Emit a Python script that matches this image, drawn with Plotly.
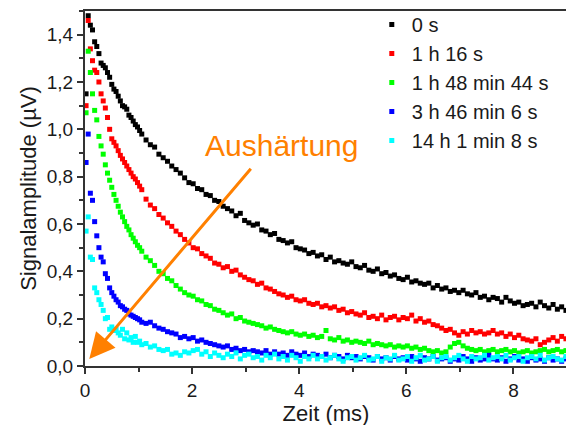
import plotly.graph_objects as go

# ---------------- data ----------------
TIME_MS = [
    0.02, 0.06, 0.10, 0.14, 0.18, 0.22, 0.26, 0.30, 0.34, 0.38,
    0.42, 0.46, 0.50, 0.54, 0.58, 0.62, 0.66, 0.70, 0.74, 0.78,
    0.82, 0.86, 0.90, 0.94, 0.98, 1.02, 1.06,
    1.14, 1.22, 1.30, 1.38, 1.46, 1.54, 1.62, 1.70, 1.78, 1.86,
    1.94, 2.02, 2.10, 2.18, 2.26, 2.34, 2.42, 2.50, 2.58, 2.66,
    2.74, 2.82, 2.90, 2.98, 3.06, 3.14, 3.22, 3.30, 3.38, 3.46,
    3.54, 3.62, 3.70, 3.78, 3.86, 3.94, 4.02, 4.10, 4.18, 4.26,
    4.34, 4.42, 4.50, 4.58, 4.66, 4.74, 4.82, 4.90, 4.98, 5.06,
    5.14, 5.22, 5.30, 5.38, 5.46, 5.54, 5.62, 5.70, 5.78, 5.86,
    5.94, 6.02, 6.10, 6.18, 6.26, 6.34, 6.42, 6.50, 6.58, 6.66,
    6.74, 6.82, 6.90, 6.98, 7.06, 7.14, 7.22, 7.30, 7.38, 7.46,
    7.54, 7.62, 7.70, 7.78, 7.86, 7.94, 8.02, 8.10, 8.18, 8.26,
    8.34, 8.42, 8.50, 8.58, 8.66, 8.74, 8.82, 8.90, 8.98,
]

AMP_0S = [
    1.15, 1.48, 1.44, 1.42, 1.37, 1.35, 1.32, 1.28, 1.27, 1.26,
    1.24, 1.22, 1.19, 1.17, 1.16, 1.14, 1.12, 1.10, 1.095, 1.085,
    1.06, 1.05, 1.035, 1.02, 1.01, 0.995, 0.98,
    0.955, 0.935, 0.925, 0.895, 0.88, 0.865, 0.845, 0.83, 0.815, 0.795,
    0.775, 0.77, 0.75, 0.745, 0.725, 0.72, 0.70, 0.695, 0.675, 0.665,
    0.655, 0.635, 0.645, 0.615, 0.605, 0.595, 0.60, 0.575, 0.57, 0.555,
    0.56, 0.535, 0.53, 0.52, 0.525, 0.50, 0.495, 0.49, 0.475, 0.48,
    0.465, 0.47, 0.45, 0.46, 0.44, 0.445, 0.435, 0.43, 0.44, 0.42,
    0.415, 0.425, 0.405, 0.40, 0.41, 0.39, 0.395, 0.38, 0.385, 0.37,
    0.365, 0.375, 0.355, 0.36, 0.35, 0.345, 0.35, 0.33, 0.34, 0.325,
    0.33, 0.315, 0.32, 0.31, 0.32, 0.305, 0.30, 0.31, 0.29, 0.295,
    0.28, 0.29, 0.285, 0.27, 0.29, 0.275, 0.265, 0.27, 0.255, 0.26,
    0.265, 0.25, 0.27, 0.255, 0.245, 0.26, 0.24, 0.25, 0.235,
]

AMP_1H16S = [
    1.10, 1.46, 1.34, 1.29, 1.25, 1.24, 1.20, 1.15, 1.12, 1.09,
    1.05, 1.00, 0.96, 0.945, 0.93, 0.91, 0.89, 0.875, 0.86, 0.845,
    0.83, 0.815, 0.80, 0.79, 0.775, 0.76, 0.745,
    0.705, 0.68, 0.665, 0.64, 0.625, 0.605, 0.59, 0.57, 0.555, 0.535,
    0.52, 0.50, 0.495, 0.475, 0.465, 0.455, 0.435, 0.43, 0.415, 0.42,
    0.40, 0.405, 0.385, 0.375, 0.365, 0.36, 0.345, 0.35, 0.33, 0.325,
    0.315, 0.305, 0.30, 0.29, 0.295, 0.28, 0.275, 0.28, 0.265, 0.26,
    0.265, 0.25, 0.255, 0.245, 0.25, 0.235, 0.24, 0.225, 0.23, 0.22,
    0.215, 0.225, 0.205, 0.21, 0.20, 0.215, 0.195, 0.205, 0.21, 0.195,
    0.205, 0.20, 0.215, 0.19, 0.20, 0.185, 0.19, 0.175, 0.17, 0.16,
    0.15, 0.155, 0.14, 0.13, 0.145, 0.135, 0.15, 0.14, 0.145, 0.135,
    0.14, 0.15, 0.135, 0.14, 0.125, 0.135, 0.12, 0.13, 0.115, 0.11,
    0.105, 0.115, 0.09, 0.10, 0.11, 0.12, 0.105, 0.125, 0.115,
]

AMP_1H48M44S = [
    1.07, 1.33, 1.24, 1.15, 1.08, 1.04, 0.97, 0.93, 0.895, 0.85,
    0.815, 0.785, 0.755, 0.725, 0.70, 0.675, 0.65, 0.63, 0.61, 0.59,
    0.575, 0.555, 0.54, 0.525, 0.51, 0.50, 0.485,
    0.46, 0.445, 0.425, 0.40, 0.39, 0.37, 0.36, 0.34, 0.325, 0.31,
    0.30, 0.295, 0.28, 0.275, 0.26, 0.255, 0.24, 0.235, 0.225, 0.215,
    0.22, 0.20, 0.205, 0.19, 0.185, 0.18, 0.175, 0.17, 0.16, 0.165,
    0.155, 0.15, 0.145, 0.14, 0.145, 0.135, 0.13, 0.135, 0.125, 0.13,
    0.12, 0.125, 0.15, 0.115, 0.11, 0.12, 0.105, 0.11, 0.10, 0.105,
    0.10, 0.095, 0.105, 0.09, 0.095, 0.09, 0.085, 0.09, 0.08, 0.085,
    0.08, 0.085, 0.075, 0.08, 0.07, 0.075, 0.065, 0.06, 0.065, 0.055,
    0.06, 0.08, 0.095, 0.10, 0.085, 0.075, 0.07, 0.065, 0.07, 0.06,
    0.065, 0.07, 0.06, 0.065, 0.07, 0.06, 0.065, 0.055, 0.06, 0.065,
    0.055, 0.06, 0.065, 0.07, 0.06, 0.065, 0.07, 0.06, 0.065,
]

AMP_3H46M6S = [
    0.86, 0.98, 0.73, 0.70, 0.61, 0.55, 0.50, 0.46, 0.44, 0.39,
    0.37, 0.33, 0.31, 0.295, 0.28, 0.27, 0.255, 0.25, 0.24, 0.235,
    0.22, 0.215, 0.21, 0.205, 0.20, 0.195, 0.185,
    0.18, 0.185, 0.17, 0.16, 0.155, 0.145, 0.14, 0.135, 0.12, 0.125,
    0.115, 0.12, 0.105, 0.11, 0.10, 0.095, 0.09, 0.085, 0.08, 0.085,
    0.07, 0.075, 0.065, 0.07, 0.06, 0.065, 0.06, 0.055, 0.065, 0.05,
    0.06, 0.05, 0.055, 0.045, 0.06, 0.05, 0.045, 0.055, 0.04, 0.05,
    0.045, 0.04, 0.05, 0.035, 0.045, 0.04, 0.03, 0.045, 0.035, 0.04,
    0.03, 0.04, 0.035, 0.025, 0.04, 0.03, 0.035, 0.025, 0.04, 0.03,
    0.035, 0.025, 0.04, 0.03, 0.02, 0.035, 0.03, 0.04, 0.025, 0.03,
    0.035, 0.02, 0.03, 0.025, 0.04, 0.03, 0.02, 0.035, 0.025, 0.03,
    0.045, 0.03, 0.025, 0.035, 0.02, 0.03, 0.04, 0.025, 0.03, 0.02,
    0.035, 0.025, 0.03, 0.02, 0.035, 0.025, 0.03, 0.02, 0.03,
]

AMP_14H1M8S = [
    0.57, 0.63, 0.46, 0.45, 0.33, 0.31, 0.28, 0.26, 0.235, 0.20,
    0.205, 0.155, 0.165, 0.15, 0.155, 0.14, 0.13, 0.155, 0.115, 0.14,
    0.11, 0.12, 0.10, 0.125, 0.10, 0.105, 0.09,
    0.095, 0.08, 0.085, 0.07, 0.065, 0.07, 0.05, 0.055, 0.045, 0.06,
    0.055, 0.065, 0.07, 0.05, 0.06, 0.04, 0.055, 0.045, 0.035, 0.05,
    0.04, 0.055, 0.03, 0.045, 0.05, 0.035, 0.04, 0.025, 0.045, 0.035,
    0.05, 0.03, 0.04, 0.025, 0.045, 0.035, 0.02, 0.04, 0.03, 0.045,
    0.03, 0.04, 0.025, 0.035, 0.045, 0.03, 0.02, 0.035, 0.04, 0.025,
    0.035, 0.045, 0.025, 0.03, 0.04, 0.02, 0.035, 0.03, 0.045, 0.025,
    0.03, 0.04, 0.02, 0.035, 0.045, 0.025, 0.03, 0.04, 0.02, 0.035,
    0.04, 0.025, 0.035, 0.045, 0.03, 0.02, 0.04, 0.03, 0.035, 0.045,
    0.025, 0.035, 0.04, 0.03, 0.045, 0.025, 0.035, 0.04, 0.02, 0.035,
    0.04, 0.03, 0.045, 0.025, 0.035, 0.04, 0.03, 0.025, 0.04,
]

SERIES_NAMES = ["0 s", "1 h 16 s", "1 h 48 min 44 s", "3 h 46 min 6 s", "14 h 1 min 8 s"]
SERIES_VALUES = [AMP_0S, AMP_1H16S, AMP_1H48M44S, AMP_3H46M6S, AMP_14H1M8S]

ARROW_LABEL = "Aushärtung"
ARROW_TAIL = (3.12, 0.84)   # (ms, µV)
ARROW_TIP = (0.08, 0.03)
LABEL_POS = (3.66, 0.93)

X_TITLE = "Zeit (ms)"
Y_TITLE = "Signalamplitude (µV)"

# ---------------- styles ----------------
COLORS = ["#000000", "#FF0000", "#00FF00", "#0000FF", "#00FFFF"]
ORANGE = "#FF8000"
FONT = "Liberation Sans, Arial, sans-serif"
AXIS_COLOR = "#333333"
TEXT_COLOR = "#1a1a1a"

fig = go.Figure()
for name, vals, col in zip(SERIES_NAMES, SERIES_VALUES, COLORS):
    n = min(len(TIME_MS), len(vals))
    fig.add_trace(go.Scatter(
        x=TIME_MS[:n], y=vals[:n], mode="markers", name=name,
        marker=dict(symbol="square", size=5, color=col, line=dict(width=0)),
    ))

fig.add_annotation(
    x=ARROW_TIP[0], y=ARROW_TIP[1], ax=ARROW_TAIL[0], ay=ARROW_TAIL[1],
    xref="x", yref="y", axref="x", ayref="y",
    text="", showarrow=True, arrowhead=2, arrowsize=1.7, arrowwidth=3,
    arrowcolor=ORANGE,
)
fig.add_annotation(
    x=LABEL_POS[0], y=LABEL_POS[1], xref="x", yref="y",
    text=ARROW_LABEL, showarrow=False,
    font=dict(family=FONT, size=30, color=ORANGE),
)

axis_common = dict(
    showgrid=False, zeroline=False, showline=True, mirror=True,
    linecolor=AXIS_COLOR, linewidth=2, ticks="outside", ticklen=6,
    tickwidth=2, tickcolor=AXIS_COLOR, automargin=False,
    tickfont=dict(family=FONT, size=19, color=TEXT_COLOR),
)

fig.update_xaxes(
    range=[0, 9], dtick=2, tick0=0,
    minor=dict(dtick=1, ticks="outside", ticklen=4, tickwidth=2, tickcolor=AXIS_COLOR),
    title=dict(text=X_TITLE, font=dict(family=FONT, size=22, color=TEXT_COLOR), standoff=2),
    **axis_common,
)
fig.update_yaxes(
    range=[0, 1.5], dtick=0.2, tick0=0, tickformat=".1f",
    minor=dict(dtick=0.1, ticks="outside", ticklen=4, tickwidth=2, tickcolor=AXIS_COLOR),
    title=dict(text=Y_TITLE, font=dict(family=FONT, size=22, color=TEXT_COLOR), standoff=4),
    **axis_common,
)

# The page places the figure 8 px from the top-left corner (default body margin),
# so margins are set to land the plot area where the reference has it.
fig.update_layout(
    width=574, height=425,
    margin=dict(l=77, r=15, t=3, b=67, autoexpand=False),
    paper_bgcolor="white", plot_bgcolor="white",
    separators=",.",
    font=dict(family=FONT, color=TEXT_COLOR),
    legend=dict(
        x=0.595, y=1.017, xanchor="left", yanchor="top",
        bgcolor="rgba(0,0,0,0)", borderwidth=0,
        font=dict(family=FONT, size=20, color=TEXT_COLOR),
        itemsizing="trace", tracegroupgap=0,
    ),
)

fig.write_html("out.html")
